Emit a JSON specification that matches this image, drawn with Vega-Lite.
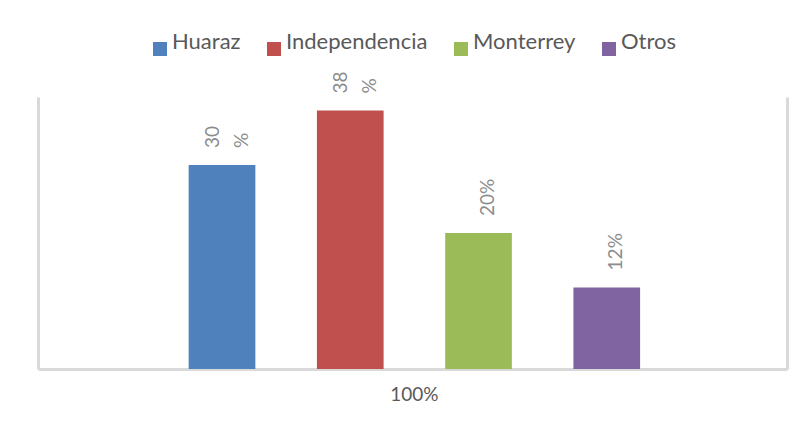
{
  "$schema": "https://vega.github.io/schema/vega-lite/v6.json",
  "width": 749,
  "height": 272,
  "autosize": {"type": "none"},
  "padding": {"left": 38, "top": 97, "right": 15, "bottom": 54},
  "config": {
    "view": {"stroke": null},
    "font": "Lato",
    "text": {"font": "Lato"}
  },
  "data": {
    "values": [
      {"cat": "100%", "serie": "Huaraz", "valor": 0.30, "etiqueta": "30\n%"},
      {"cat": "100%", "serie": "Independencia", "valor": 0.38, "etiqueta": "38\n%"},
      {"cat": "100%", "serie": "Monterrey", "valor": 0.20, "etiqueta": "20%"},
      {"cat": "100%", "serie": "Otros", "valor": 0.12, "etiqueta": "12%"}
    ]
  },
  "encoding": {
    "x": {
      "field": "cat",
      "type": "nominal",
      "scale": {"paddingInner": 0, "paddingOuter": 0.23, "align": 0.508},
      "axis": {
        "title": null,
        "ticks": false,
        "labelAngle": 0,
        "labelFont": "Lato",
        "labelFontSize": 19,
        "labelColor": "#595959",
        "labelPadding": 16,
        "domainColor": "#D9D9D9",
        "domainWidth": 3
      }
    },
    "xOffset": {
      "field": "serie",
      "type": "nominal",
      "sort": ["Huaraz", "Independencia", "Monterrey", "Otros"],
      "scale": {"paddingInner": 0.48, "paddingOuter": 0.24}
    },
    "y": {
      "field": "valor",
      "type": "quantitative",
      "scale": {"domain": [0, 0.4], "nice": false}
    }
  },
  "layer": [
    {
      "mark": {"type": "bar"},
      "encoding": {
        "y": {
          "field": "valor",
          "type": "quantitative",
          "scale": {"domain": [0, 0.4], "nice": false},
          "axis": {"orient": "left", "title": null, "labels": false, "ticks": false, "grid": false, "domainColor": "#D9D9D9", "domainWidth": 3}
        },
        "color": {
          "field": "serie",
          "type": "nominal",
          "sort": ["Huaraz", "Independencia", "Monterrey", "Otros"],
          "scale": {
            "domain": ["Huaraz", "Independencia", "Monterrey", "Otros"],
            "range": ["#4F81BD", "#C0504D", "#9BBB59", "#8064A2"]
          },
          "legend": {
            "title": null,
            "orient": "none",
            "direction": "horizontal",
            "legendX": 111,
            "legendY": -59,
            "padding": 0,
            "symbolType": "square",
            "symbolSize": 196,
            "symbolStrokeWidth": 0,
            "labelFont": "Lato",
            "labelFontSize": 22,
            "labelColor": "#595959",
            "labelOffset": 1,
            "labelBaseline": "alphabetic",
            "columnPadding": 22
          }
        }
      }
    },
    {
      "transform": [{"filter": "indexof(datum.etiqueta, '\\n') >= 0"}],
      "mark": {"type": "text", "angle": 270, "align": "left", "baseline": "middle", "dx": 17, "dy": -9, "lineBreak": "\n", "lineHeight": 29, "fontSize": 19, "color": "#8C8C8C"},
      "encoding": {
        "y": {
          "field": "valor",
          "type": "quantitative",
          "scale": {"domain": [0, 0.4], "nice": false},
          "axis": {"orient": "right", "title": null, "labels": false, "ticks": false, "grid": false, "domainColor": "#D9D9D9", "domainWidth": 3}
        },
        "text": {"field": "etiqueta", "type": "nominal"}
      }
    },
    {
      "transform": [{"filter": "indexof(datum.etiqueta, '\\n') < 0"}],
      "mark": {"type": "text", "angle": 270, "align": "left", "baseline": "middle", "dx": 17, "dy": 9, "fontSize": 19, "color": "#8C8C8C"},
      "encoding": {
        "y": {
          "field": "valor",
          "type": "quantitative",
          "scale": {"domain": [0, 0.4], "nice": false},
          "axis": null
        },
        "text": {"field": "etiqueta", "type": "nominal"}
      }
    }
  ],
  "resolve": {"axis": {"y": "independent"}}
}
